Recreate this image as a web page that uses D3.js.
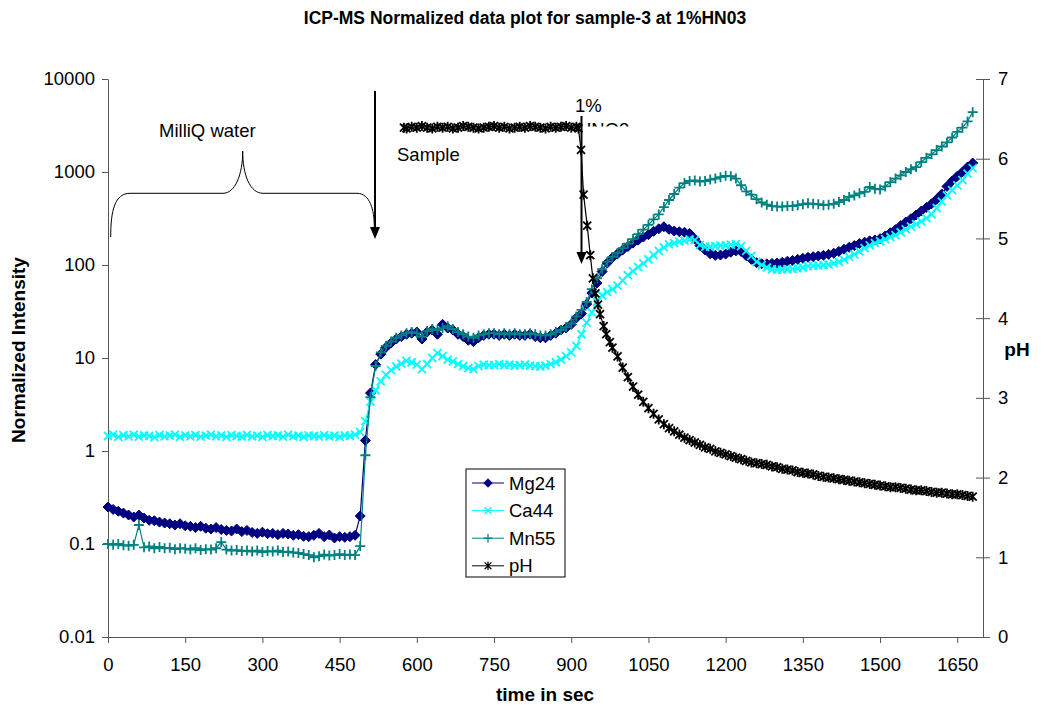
<!doctype html>
<html>
<head>
<meta charset="utf-8">
<title>ICP-MS Normalized data plot</title>
<script src="https://d3js.org/d3.v7.min.js"></script>
<style>
body { margin:0; background:#fff; }
svg text { font-family: "Liberation Sans", Arial, sans-serif; fill:#000; }
.axis path, .axis line { stroke:#555; }
</style>
</head>
<body>
<svg id="chart" width="1050" height="709"></svg>
<script>

// sample times (sec) for the three isotopes
var times = [
  0,10,20,30,40,50,60,70,80,90,
  100,110,120,130,140,150,160,170,180,190,
  200,210,220,230,240,250,260,270,280,290,
  300,310,320,330,340,350,360,370,380,390,
  400,410,420,430,440,450,460,470,480,490,
  500,510,520,530,540,550,560,570,580,590,
  600,610,620,630,640,650,660,670,680,690,
  700,710,720,730,740,750,760,770,780,790,
  800,810,820,830,840,850,860,870,880,890,
  900,910,920,930,940,950,960,970,980,990,
  1000,1010,1020,1030,1040,1050,1060,1070,1080,1090,
  1100,1110,1120,1130,1140,1150,1160,1170,1180,1190,
  1200,1210,1220,1230,1240,1250,1260,1270,1280,1290,
  1300,1310,1320,1330,1340,1350,1360,1370,1380,1390,
  1400,1410,1420,1430,1440,1450,1460,1470,1480,1490,
  1500,1510,1520,1530,1540,1550,1560,1570,1580,1590,
  1600,1610,1620,1630,1640,1650,1660,1670,1680
];

var mg24 = [
  0.25,0.235,0.225,0.215,0.205,0.195,0.205,0.19,0.18,0.178,
  0.172,0.168,0.165,0.16,0.165,0.157,0.155,0.15,0.155,0.148,
  0.145,0.15,0.143,0.14,0.138,0.145,0.136,0.14,0.133,0.13,
  0.134,0.129,0.13,0.126,0.13,0.128,0.124,0.126,0.121,0.12,
  0.124,0.13,0.12,0.125,0.116,0.12,0.118,0.12,0.124,0.2,
  1.3,4.2,8.5,11,13,14.5,16,17,18,18.5,
  19,16,19,20,18,23,21,20,18,17,
  15.5,15,16.5,17.5,18,18,17.5,18,17.5,18,
  17.5,17.5,18,17,16.5,16.5,17.5,18.5,20,21,
  23,27,30,38,50,64,85,105,120,132,
  145,158,172,185,200,212,230,245,258,242,
  232,228,225,218,190,162,145,132,127,128,
  131,137,142,140,126,115,106,103,103,104,
  105,107,110,112,115,118,121,123,125,127,
  130,134,140,148,155,162,170,176,182,186,
  192,205,222,240,265,290,315,345,380,415,
  455,510,580,700,800,900,1000,1130,1250
];

var ca44 = [
  1.45,1.5,1.42,1.48,1.44,1.5,1.43,1.47,1.45,1.41,
  1.49,1.44,1.46,1.5,1.42,1.47,1.44,1.48,1.43,1.46,
  1.5,1.44,1.47,1.42,1.48,1.45,1.43,1.49,1.44,1.46,
  1.42,1.48,1.45,1.47,1.43,1.5,1.44,1.46,1.42,1.47,
  1.45,1.43,1.48,1.44,1.46,1.42,1.47,1.45,1.5,1.6,
  2.1,3.4,4.5,5.6,6.6,7.4,8.1,8.7,9.3,9.0,
  8.5,7.6,8.6,10,11.3,10.5,9.6,9.2,8.6,8.2,
  7.8,7.6,8.2,8.5,8.4,8.4,8.6,8.4,8.5,8.3,
  8.4,8.5,8.3,8.2,8.1,8.3,8.6,9.0,9.6,10.5,
  11.5,13.5,18,24,31,40,47,51,55,60,
  68,78,86,95,104,115,128,142,155,167,
  172,178,183,188,185,165,157,158,160,162,
  163,166,168,160,142,125,108,100,94,90,
  89,89,90,91,92,94,97,98,99,100,
  101,104,108,114,122,130,140,152,163,172,
  180,190,200,210,225,242,258,275,295,320,
  350,410,480,560,640,720,820,960,1100
];

var mn55 = [
  0.1,0.098,0.1,0.097,0.096,0.098,0.16,0.092,0.094,0.09,
  0.093,0.09,0.091,0.088,0.09,0.089,0.087,0.09,0.086,0.088,
  0.087,0.09,0.105,0.087,0.085,0.086,0.084,0.085,0.083,0.085,
  0.082,0.084,0.083,0.085,0.082,0.083,0.081,0.08,0.078,0.076,
  0.072,0.074,0.077,0.075,0.076,0.078,0.076,0.077,0.076,0.095,
  0.9,3.8,8.2,11.5,13.5,15,16.5,17.5,18.5,19,
  18.5,17,19.5,20.5,20,21,22,20.5,19,18,
  17,16.5,17.5,18,18.5,18.5,18,18.5,18,18.5,
  18,18,18.5,18,17.5,17.5,18,19,20,21.5,
  23.5,28,33,40,55,72,90,108,122,135,
  152,170,190,215,240,270,310,350,420,500,
  580,680,760,800,810,790,800,830,850,880,
  910,900,850,720,620,570,510,470,445,430,
  425,425,430,430,440,450,460,455,450,440,
  445,455,475,500,540,560,590,610,690,660,
  650,700,780,850,920,1000,1070,1130,1280,1420,
  1550,1720,1880,2080,2350,2700,3000,3500,4400
];

// pH is logged on its own clock (secondary axis)
var phTimes = [
  575,580,590,600,610,620,630,640,650,660,
  670,680,690,700,710,720,730,740,750,760,
  770,780,790,800,810,820,830,840,850,860,
  870,880,890,900,910,
  914,919,924,931,937,942,947,952,956,963,968,975,
  980,990,
  1000,1010,1020,1030,1040,1050,1060,1070,1080,1090,
  1100,1110,1120,1130,1140,1150,1160,1170,1180,1190,
  1200,1210,1220,1230,1240,1250,1260,1270,1280,1290,
  1300,1310,1320,1330,1340,1350,1360,1370,1380,1390,
  1400,1410,1420,1430,1440,1450,1460,1470,1480,1490,
  1500,1510,1520,1530,1540,1550,1560,1570,1580,1590,
  1600,1610,1620,1630,1640,1650,1660,1670,1680
];
var phValues = [
  6.39,6.38,6.40,6.39,6.41,6.39,6.38,6.40,6.39,6.40,
  6.38,6.39,6.41,6.40,6.39,6.38,6.39,6.40,6.41,6.39,
  6.40,6.38,6.39,6.40,6.39,6.41,6.40,6.39,6.38,6.40,
  6.39,6.40,6.41,6.39,6.40,
  6.38,6.11,5.55,5.16,4.79,4.50,4.31,4.17,4.05,3.90,3.80,3.70,
  3.63,3.52,
  3.38,3.26,3.14,3.04,2.95,2.87,2.80,2.73,2.67,2.62,
  2.58,2.54,2.50,2.47,2.44,2.41,2.38,2.36,2.33,2.31,
  2.29,2.27,2.25,2.23,2.21,2.19,2.18,2.17,2.16,2.14,
  2.13,2.11,2.10,2.09,2.07,2.06,2.05,2.04,2.02,2.01,
  2.00,1.99,1.98,1.97,1.96,1.95,1.94,1.93,1.92,1.91,
  1.90,1.89,1.88,1.88,1.87,1.86,1.85,1.84,1.84,1.83,
  1.82,1.81,1.81,1.80,1.79,1.79,1.78,1.77,1.76
];

var xTicks = [0,150,300,450,600,750,900,1050,1200,1350,1500,1650];
var yLeftTicks = [0.01,0.1,1,10,100,1000,10000];
var yLeftLabels = ["0.01","0.1","1","10","100","1000","10000"];
var yRightTicks = [0,1,2,3,4,5,6,7];
var seriesNames = ["Mg24","Ca44","Mn55","pH"];

var svg = d3.select('#chart');
var margin = {top: 79, right: 67, bottom: 72, left: 108},
    width = 1050 - margin.left - margin.right,
    height = 709 - margin.top - margin.bottom;

var x = d3.scaleLinear().domain([0, 1700]).range([0, width]);
var yL = d3.scaleLog().domain([0.01, 10000]).range([height, 0]);
var yR = d3.scaleLinear().domain([0, 7]).range([height, 0]);

var g = svg.append('g').attr('transform', 'translate(' + margin.left + ',' + margin.top + ')');

// axes
var fs = '18.5px';
var gx = g.append('g').attr('class', 'axis')
    .attr('transform', 'translate(0,' + height + ')')
    .call(d3.axisBottom(x).tickValues(xTicks).tickFormat(d3.format('d'))
      .tickSizeInner(6).tickSizeOuter(0).tickPadding(15));
var gl = g.append('g').attr('class', 'axis')
    .call(d3.axisLeft(yL).tickValues(yLeftTicks).tickSizeInner(6).tickSizeOuter(0).tickPadding(7)
      .tickFormat(function(d, i) { return yLeftLabels[i]; }));
var gr = g.append('g').attr('class', 'axis')
    .attr('transform', 'translate(' + width + ',0)')
    .call(d3.axisRight(yR).tickValues(yRightTicks).tickFormat(d3.format('d'))
      .tickSizeInner(7).tickSizeOuter(0).tickPadding(8));
gr.selectAll('.tick line').attr('x1', -7);
g.selectAll('.axis text').style('font-size', fs).attr('fill', '#000');
g.selectAll('.axis .domain').attr('stroke', '#555');

// series
var isoData = times.map(function(t, i) { return {t: t, mg: mg24[i], ca: ca44[i], mn: mn55[i]}; });
var phData = phTimes.map(function(t, i) { return {t: t, v: phValues[i]}; });

var markers = {
  diamond: 'M0,-5L5,0L0,5L-5,0Z',
  cross: 'M-4,-4L4,4M-4,4L4,-4',
  plus: 'M-5,0L5,0M0,-5L0,5',
  star: 'M-4,-4L4,4M-4,4L4,-4M0,-5L0,5'
};

var series = [
  {key: 'mg', color: '#000080', marker: 'diamond', fill: true},
  {key: 'ca', color: '#00FFFF', marker: 'cross', fill: false},
  {key: 'mn', color: '#008080', marker: 'plus', fill: false}
];

series.forEach(function(s) {
  var line = d3.line()
      .x(function(d) { return x(d.t); })
      .y(function(d) { return yL(d[s.key]); });
  g.append('path').datum(isoData)
      .attr('fill', 'none').attr('stroke', s.color).attr('stroke-width', 1.2)
      .attr('d', line);
  g.append('g').selectAll('path').data(isoData).enter().append('path')
      .attr('transform', function(d) { return 'translate(' + x(d.t) + ',' + yL(d[s.key]) + ')'; })
      .attr('d', markers[s.marker])
      .attr('fill', s.fill ? s.color : 'none')
      .attr('stroke', s.color)
      .attr('stroke-width', s.fill ? 1 : 1.8);
});

var phLine = d3.line()
    .x(function(d) { return x(d.t); })
    .y(function(d) { return yR(d.v); });
g.append('path').datum(phData)
    .attr('fill', 'none').attr('stroke', '#000').attr('stroke-width', 1.2)
    .attr('d', phLine);
g.append('g').selectAll('path').data(phData).enter().append('path')
    .attr('transform', function(d) { return 'translate(' + x(d.t) + ',' + yR(d.v) + ')'; })
    .attr('d', markers.star)
    .attr('fill', 'none').attr('stroke', '#000').attr('stroke-width', 1.8);

// titles
svg.append('text').attr('x', 525).attr('y', 24).attr('text-anchor', 'middle')
    .style('font-size', '17.5px').style('font-weight', 'bold')
    .text('ICP-MS Normalized data plot for sample-3 at 1%HN03');
svg.append('text').attr('x', 545).attr('y', 701).attr('text-anchor', 'middle')
    .style('font-size', '19px').style('font-weight', 'bold').text('time in sec');
svg.append('text').attr('transform', 'translate(25,350) rotate(-90)').attr('text-anchor', 'middle')
    .style('font-size', '19px').style('font-weight', 'bold').text('Normalized Intensity');
svg.append('text').attr('x', 1017).attr('y', 356).attr('text-anchor', 'middle')
    .style('font-size', '19px').style('font-weight', 'bold').text('pH');

// annotations
svg.append('text').attr('x', 159).attr('y', 137).style('font-size', fs).text('MilliQ water');
svg.append('path')
    .attr('d', 'M110.7,237C110.7,210 115,193.3 130,193.3L223,193.3C235,193.3 242.7,175 242.7,151' +
               'C242.7,175 250,193.3 263,193.3L357,193.3C370,193.3 374.3,210 374.3,227')
    .attr('fill', 'none').attr('stroke', '#000').attr('stroke-width', 1);

function arrow(xp, y0, y1) {
  svg.append('line').attr('x1', xp).attr('x2', xp).attr('y1', y0).attr('y2', y1 - 10)
      .attr('stroke', '#000').attr('stroke-width', 2);
  svg.append('path').attr('d', 'M' + (xp - 5) + ',' + (y1 - 12) + 'L' + (xp + 5) + ',' + (y1 - 12) + 'L' + xp + ',' + y1 + 'Z')
      .attr('fill', '#000');
}
arrow(375, 91, 239);
svg.append('text').attr('x', 397).attr('y', 161).style('font-size', fs).text('Sample');

svg.append('text').attr('x', 575).attr('y', 112).style('font-size', fs).text('1%');
svg.append('clipPath').attr('id', 'hnoClip').append('rect')
    .attr('x', 570).attr('y', 110).attr('width', 80).attr('height', 16.5);
svg.append('text').attr('x', 578).attr('y', 136).attr('clip-path', 'url(#hnoClip)')
    .style('font-size', fs).text('HNO3');
arrow(581.5, 116, 264);

// legend
var legend = svg.append('g').attr('transform', 'translate(466,469)');
legend.append('rect').attr('width', 99).attr('height', 108)
    .attr('fill', '#fff').attr('stroke', '#000').attr('stroke-width', 1);
var legendStyle = [
  {color: '#000080', marker: 'diamond', fill: true},
  {color: '#00FFFF', marker: 'cross', fill: false},
  {color: '#008080', marker: 'plus', fill: false},
  {color: '#000', marker: 'star', fill: false}
];
seriesNames.forEach(function(name, i) {
  var ly = 14 + i * 27.6;
  var st = legendStyle[i];
  legend.append('line').attr('x1', 6).attr('x2', 38).attr('y1', ly).attr('y2', ly)
      .attr('stroke', st.color).attr('stroke-width', 1);
  legend.append('path').attr('transform', 'translate(22,' + ly + ') scale(0.85)')
      .attr('d', markers[st.marker])
      .attr('fill', st.fill ? st.color : 'none').attr('stroke', st.color)
      .attr('stroke-width', st.fill ? 1 : 1.5);
  legend.append('text').attr('x', 43).attr('y', ly + 6.5).style('font-size', fs).text(name);
});

</script>
</body>
</html>
